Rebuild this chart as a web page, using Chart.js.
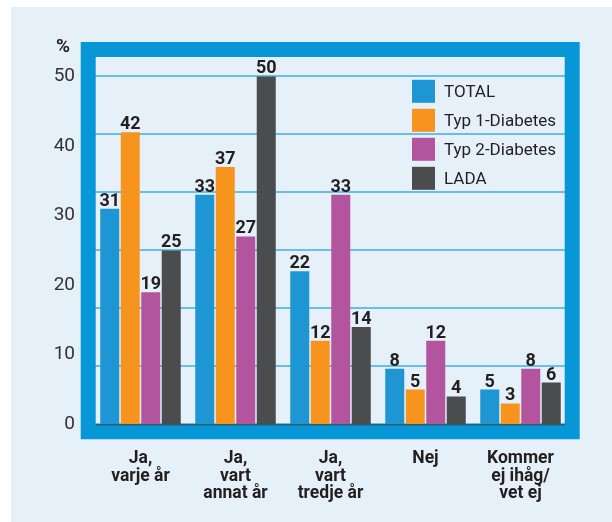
<!DOCTYPE html>
<html>
<head>
<meta charset="utf-8">
<script src="https://cdn.jsdelivr.net/npm/chart.js@4.4.1/dist/chart.umd.min.js"></script>
<style>
  html, body { margin: 0; padding: 0; background: #ffffff; }
  #wrap { width: 612px; height: 522px; }
</style>
</head>
<body>
<div id="wrap"><canvas id="c" width="612" height="522"></canvas></div>
<script>
// Categories (multi-line x labels)
const categories = [
  ['Ja,', 'varje år'],
  ['Ja,', 'vart', 'annat år'],
  ['Ja,', 'vart', 'tredje år'],
  ['Nej'],
  ['Kommer', 'ej ihåg/', 'vet ej']
];

// Series
const seriesNames = ['TOTAL', 'Typ 1-Diabetes', 'Typ 2-Diabetes', 'LADA'];
const totalValues = [31, 33, 22, 8, 5];
const typ1Values  = [42, 37, 12, 5, 3];
const typ2Values  = [19, 27, 33, 12, 8];
const ladaValues  = [25, 50, 14, 4, 6];

// Y axis tick labels
const yTickValues = [0, 10, 20, 30, 40, 50];
const yUnit = '%';

const seriesColors = ['#1e96d4', '#f7941e', '#b2559e', '#4b4c4e'];
const FONT = 'Roboto, "Liberation Sans", sans-serif';
const TEXT = '#231f20';
const FRAME = '#0797d7';
const PANEL = '#e5f0f9';

const seriesValues = [totalValues, typ1Values, typ2Values, ladaValues];

// Page background, blue frame, zero line, value labels, legend and unit label
const decor = {
  id: 'decor',
  beforeDraw(chart) {
    const ctx = chart.ctx;
    ctx.save();
    ctx.fillStyle = '#ffffff';
    ctx.fillRect(0, 0, chart.width, chart.height);
    ctx.fillStyle = PANEL;
    ctx.fillRect(11, 7, chart.width - 11, chart.height - 7);
    ctx.restore();
  },
  beforeDatasetsDraw(chart) {
    const ctx = chart.ctx;
    const a = chart.chartArea;
    const il = a.left + 2.7, ir = a.right - 3.3, it = a.top, ib = a.bottom;
    const t = 15;
    ctx.save();
    ctx.fillStyle = FRAME;
    ctx.beginPath();
    ctx.rect(il - t, it - t, (ir - il) + 2 * t, (ib - it) + 2 * t);
    ctx.rect(il, it, ir - il, ib - it);
    ctx.fill('evenodd');
    ctx.restore();
  },
  afterDatasetsDraw(chart) {
    const ctx = chart.ctx;
    const a = chart.chartArea;
    ctx.save();
    // zero line
    ctx.strokeStyle = '#3c3c3c';
    ctx.lineWidth = 1;
    ctx.beginPath();
    ctx.moveTo(a.left + 2.7, a.bottom + 0.5);
    ctx.lineTo(a.right - 3.3, a.bottom + 0.5);
    ctx.stroke();

    // value labels above the bars
    ctx.fillStyle = TEXT;
    ctx.font = 'bold 18px ' + FONT;
    ctx.textAlign = 'center';
    ctx.textBaseline = 'alphabetic';
    chart.data.datasets.forEach((ds, di) => {
      const meta = chart.getDatasetMeta(di);
      meta.data.forEach((bar, i) => {
        ctx.fillText(String(ds.data[i]), bar.x, bar.y - 3);
      });
    });

    // legend
    ctx.textAlign = 'left';
    ctx.textBaseline = 'middle';
    ctx.font = '17px ' + FONT;
    chart.data.datasets.forEach((ds, di) => {
      const cy = 91.3 + di * 29;
      ctx.fillStyle = ds.backgroundColor;
      ctx.fillRect(412, cy - 11.5, 23, 23);
      ctx.fillStyle = TEXT;
      ctx.fillText(ds.label, 444, cy + 1);
    });

    // unit label
    ctx.font = 'bold 19px ' + FONT;
    ctx.textAlign = 'center';
    ctx.fillText(yUnit, 63, 47);
    ctx.restore();
  }
};

new Chart(document.getElementById('c'), {
  type: 'bar',
  data: {
    labels: categories,
    datasets: seriesNames.map((name, i) => ({
      label: name,
      data: seriesValues[i],
      backgroundColor: seriesColors[i],
      borderWidth: 0,
      categoryPercentage: 0.863,
      barPercentage: 0.927
    }))
  },
  options: {
    responsive: false,
    animation: false,
    devicePixelRatio: 1,
    layout: { padding: { top: 57, right: 44, bottom: 0, left: 0 } },
    plugins: {
      legend: { display: false },
      tooltip: { enabled: false }
    },
    scales: {
      x: {
        grid: { display: false, drawTicks: false },
        border: { display: false },
        ticks: {
          color: TEXT,
          font: { family: FONT, size: 17.5, weight: 'bold', lineHeight: 1.0 },
          padding: 26,
          maxRotation: 0,
          autoSkip: false
        },
        afterFit(s) { s.height = 522 - 424.3; }
      },
      y: {
        min: 0,
        max: 52.8,
        grid: { display: false, drawTicks: false },
        border: { display: false },
        ticks: {
          color: '#333333',
          font: { family: FONT, size: 19 },
          padding: 18
        },
        afterBuildTicks(s) { s.ticks = yTickValues.map(v => ({ value: v })); },
        afterFit(s) { s.width = 93; }
      },
      yGrid: {
        position: 'left',
        min: 0,
        max: 52.8,
        grid: {
          color: '#69bfe9',
          lineWidth: 2,
          drawTicks: false
        },
        border: { display: false },
        ticks: { display: false },
        afterBuildTicks(s) {
          const top = yTickValues[yTickValues.length - 1];
          const out = [];
          for (let k = 0; k <= 6; k++) out.push({ value: top * k / 6 });
          s.ticks = out;
        },
        afterFit(s) { s.width = 0; }
      }
    }
  },
  plugins: [decor]
});
</script>
</body>
</html>
